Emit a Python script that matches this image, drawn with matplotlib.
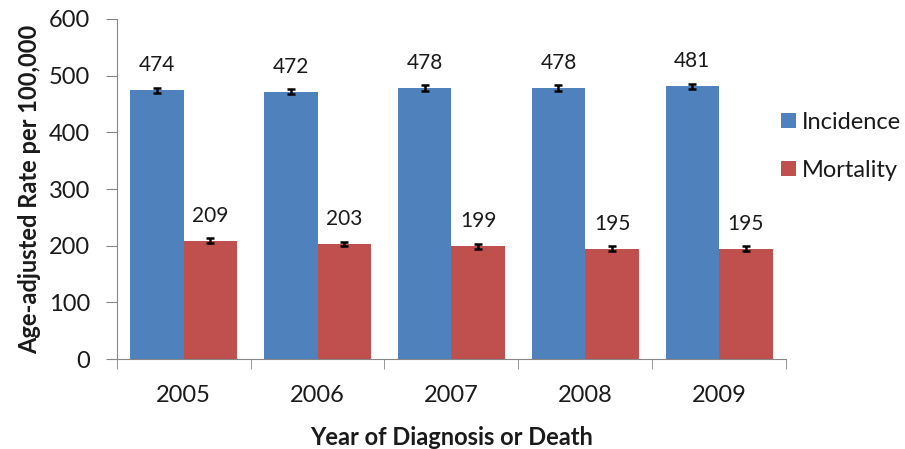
import numpy as np
import matplotlib.pyplot as plt

plt.rcParams['font.family'] = ['Lato', 'DejaVu Sans']

years = ['2005', '2006', '2007', '2008', '2009']
incidence = [474, 472, 478, 478, 481]
mortality = [209, 203, 199, 195, 195]
incidence_err = [5, 5, 5, 5, 5]
mortality_err = [4, 4, 4, 4, 4]

blue = '#4F81BD'
red = '#C0504D'
axis_col = '#868686'
txt_col = '#1a1a1a'

fig = plt.figure(figsize=(9.05, 4.49), dpi=100)
ax = fig.add_axes([0.129, 0.2004, 0.7395, 0.7573])

x = np.arange(len(years))
w = 0.40
ekw = dict(elinewidth=1.8, capthick=1.8, ecolor='black')
b1 = ax.bar(x - w / 2, incidence, w, color=blue, label='Incidence',
            yerr=incidence_err, capsize=3, error_kw=ekw)
b2 = ax.bar(x + w / 2, mortality, w, color=red, label='Mortality',
            yerr=mortality_err, capsize=3, error_kw=ekw)

# value labels above each bar
for i in range(len(years)):
    ax.annotate(str(incidence[i]), (x[i] - w / 2, incidence[i]), xytext=(0, 18),
                textcoords='offset points', ha='center', va='center', fontsize=15, color=txt_col)
    ax.annotate(str(mortality[i]), (x[i] + w / 2, mortality[i]), xytext=(0, 18),
                textcoords='offset points', ha='center', va='center', fontsize=15, color=txt_col)

ax.set_xlim(-0.5, len(years) - 0.5)
ax.set_ylim(0, 600)
ax.set_yticks(range(0, 601, 100))
ax.set_xticks(x)
ax.set_xticklabels(years)
ax.set_xticks(np.arange(-0.5, len(years), 1), minor=True)
ax.tick_params(axis='x', which='major', length=0, pad=19, labelsize=17, labelcolor=txt_col)
ax.tick_params(axis='x', which='minor', length=7, color=axis_col, direction='out')
ax.tick_params(axis='y', length=8, color=axis_col, pad=11, labelsize=17, labelcolor=txt_col)

ax.spines['top'].set_visible(False)
ax.spines['right'].set_visible(False)
ax.spines['left'].set_color(axis_col)
ax.spines['bottom'].set_color(axis_col)

ax.set_ylabel('Age-adjusted Rate per 100,000', fontsize=17, fontweight='bold', labelpad=6, color=txt_col)
ax.set_xlabel('Year of Diagnosis or Death', fontsize=17, fontweight='bold', labelpad=14, color=txt_col)

leg = fig.legend(handles=[b1, b2], labels=['Incidence', 'Mortality'], loc='upper left',
                 bbox_to_anchor=(0.8526, 0.772), frameon=False, fontsize=17,
                 handlelength=0.64, handleheight=0.64, handletextpad=0.25, labelspacing=1.15,
                 borderaxespad=0)
for t in leg.get_texts():
    t.set_color(txt_col)

fig.savefig('out.png', dpi=100)
